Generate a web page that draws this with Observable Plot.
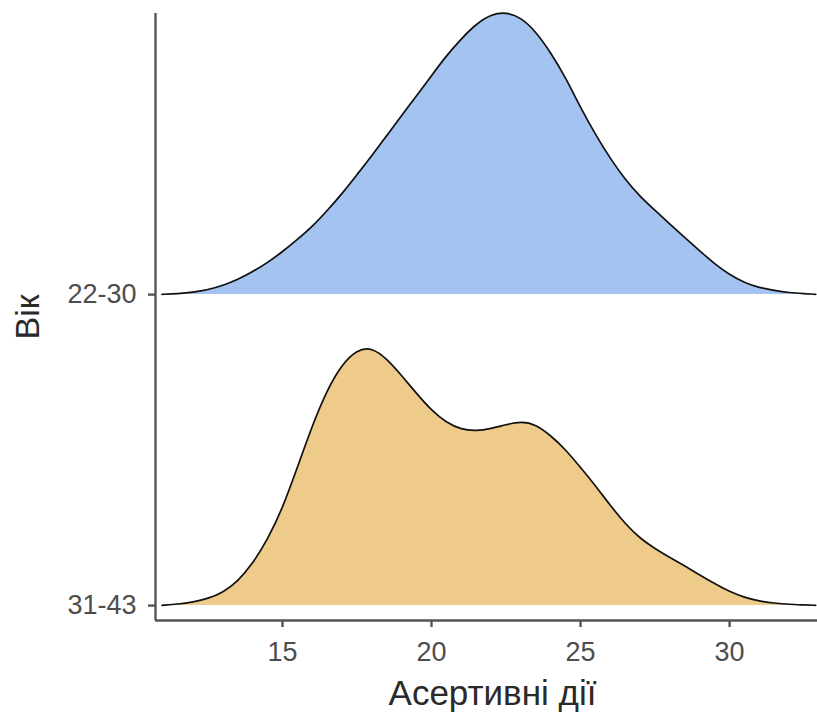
<!DOCTYPE html>
<html>
<head>
<meta charset="utf-8">
<script src="https://cdn.jsdelivr.net/npm/d3@7"></script>
<script src="https://cdn.jsdelivr.net/npm/@observablehq/plot@0.6"></script>
<style>
  html, body { margin: 0; padding: 0; background: #fff; }
  #chart svg { display: block; }
</style>
</head>
<body>
<div id="chart"></div>
<script>
// Age groups, bottom row first (row positions 1, 2)
const ageGroups = ["31-43", "22-30"];

// Score grid at which the density estimates are given
const scoreGrid = [10.96, 11.5, 12, 12.5, 13, 13.5, 14, 14.5, 15, 15.5, 16, 16.5, 17, 17.5, 18, 18.5,
  19, 19.5, 20, 20.5, 21, 21.5, 22, 22.5, 23, 23.5, 24, 24.5, 25, 25.5, 26, 26.5, 27, 27.5, 28,
  28.5, 29, 29.5, 30, 30.5, 31, 31.5, 32, 32.5, 32.89];

// Kernel density of "Асертивні дії" for ages 22-30
const density2230 = [0.0001, 0.0004, 0.001, 0.002, 0.0038, 0.0063, 0.0096, 0.0134, 0.018, 0.0231,
  0.0285, 0.0352, 0.0423, 0.0503, 0.0583, 0.0667, 0.0751, 0.0834, 0.0918, 0.1002,
  0.1073, 0.1135, 0.1175, 0.1185, 0.1162, 0.1103, 0.1015, 0.091, 0.0784, 0.0671,
  0.057, 0.0482, 0.0411, 0.0353, 0.0295, 0.0239, 0.0184, 0.0128, 0.0084, 0.005,
  0.0029, 0.0017, 0.0008, 0.0004, 0.0001];

// Kernel density of "Асертивні дії" for ages 31-43
const density3143 = [0.0001, 0.0006, 0.0015, 0.0029, 0.0055, 0.0101, 0.0176, 0.0277, 0.0407, 0.0579,
  0.0755, 0.0905, 0.1012, 0.1073, 0.1082, 0.1035, 0.0964, 0.0889, 0.0818, 0.0767,
  0.0738, 0.0732, 0.0742, 0.0759, 0.0772, 0.0760, 0.0713, 0.0654, 0.0579, 0.0503,
  0.0419, 0.0343, 0.0281, 0.0239, 0.0201, 0.0166, 0.0128, 0.0092, 0.0058, 0.0034,
  0.0019, 0.001, 0.0005, 0.0003, 0.0001];

const xTicks = [15, 20, 25, 30];

// Presentation settings
const ridgeScale = 7.67;              // density → row units
const fills = {"22-30": "#a4c3f0", "31-43": "#efcb8b"};
const xDomain = [10.74, 32.95];
const yDomain = [0.952, 2.904];
const axisColor = "#555";
const tickTextColor = "#4d4d4d";
const font = "'Liberation Sans', Arial, sans-serif";

// Long-format ridge table
const densities = {"22-30": density2230, "31-43": density3143};
const ridges = ageGroups.flatMap((g, i) =>
  scoreGrid.map((s, j) => ({group: g, row: i + 1, score: s, top: i + 1 + densities[g][j] * ridgeScale}))
);

// Top ridge first, so it sits behind the lower one
const order = ["22-30", "31-43"];
const ridgeMarks = order.flatMap(g => {
  const d = ridges.filter(r => r.group === g);
  return [
    Plot.areaY(d, {x: "score", y1: "row", y2: "top", fill: fills[g], curve: "basis"}),
    Plot.lineY(d, {x: "score", y: "top", stroke: "#111", strokeWidth: 1.7, curve: "basis"})
  ];
});

const chart = Plot.plot({
  width: 817,
  height: 724,
  marginLeft: 155,
  marginRight: 0,
  marginTop: 13,
  marginBottom: 104,
  style: {fontFamily: font, background: "#fff"},
  x: {domain: xDomain},
  y: {domain: yDomain},
  marks: [
    ...ridgeMarks,
    Plot.ruleX([xDomain[0]], {stroke: axisColor, strokeWidth: 2.4}),
    Plot.ruleY([yDomain[0]], {stroke: axisColor, strokeWidth: 2.4}),
    Plot.axisX(xTicks, {
      tickSize: 7, tickPadding: 14, stroke: axisColor, strokeWidth: 2.4,
      fontSize: 27, fill: tickTextColor, label: null
    }),
    Plot.axisY([1, 2], {
      tickSize: 7, tickPadding: 12, stroke: axisColor, strokeWidth: 2.4,
      fontSize: 27, fill: tickTextColor, label: null,
      tickFormat: d => ageGroups[d - 1]
    }),
    Plot.text(["Асертивні дії"], {
      frameAnchor: "bottom", dy: 84, dx: 6, fontSize: 35, fill: "#2a2a2a", textAnchor: "middle"
    }),
    Plot.text(["Вік"], {
      frameAnchor: "left", dx: -127, rotate: -90, fontSize: 34, fill: "#2a2a2a", textAnchor: "middle"
    })
  ]
});

document.getElementById("chart").append(chart);
</script>
</body>
</html>
